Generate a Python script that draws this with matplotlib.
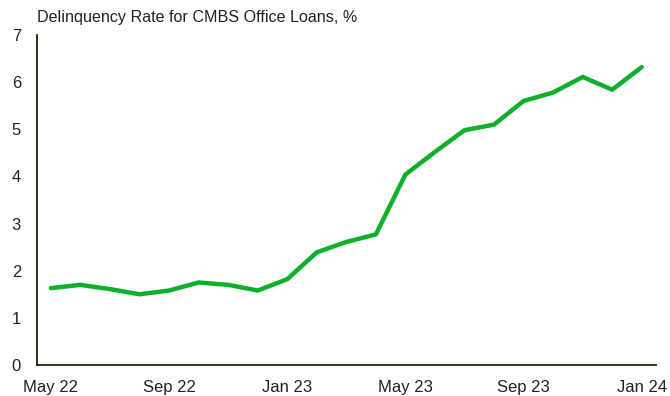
import matplotlib
matplotlib.use("Agg")
import matplotlib.pyplot as plt
import numpy as np

# monthly delinquency rate, May 22 .. Jan 24
months = ["May 22", "Jun 22", "Jul 22", "Aug 22", "Sep 22", "Oct 22", "Nov 22",
          "Dec 22", "Jan 23", "Feb 23", "Mar 23", "Apr 23", "May 23", "Jun 23",
          "Jul 23", "Aug 23", "Sep 23", "Oct 23", "Nov 23", "Dec 23", "Jan 24"]
rate = [1.63, 1.70, 1.61, 1.50, 1.58, 1.75, 1.70, 1.58, 1.82, 2.39, 2.61,
        2.77, 4.04, 4.52, 4.98, 5.10, 5.60, 5.78, 6.11, 5.84, 6.32]

plt.rcParams['font.family'] = ['Liberation Sans', 'DejaVu Sans']

fig = plt.figure(figsize=(6.7, 3.96), dpi=100)
ax = fig.add_axes([0.0552, 0.0783, 0.9238, 0.8333])

x = np.arange(len(months))
ax.plot(x, rate, color='#0DB02B', linewidth=3.2, solid_capstyle='round',
        solid_joinstyle='round')

ax.set_xlim(-0.47, len(months) - 1 + 0.48)
ax.set_ylim(0, 7)
ax.set_yticks(range(0, 8))
ax.set_xticks(x[::4])
ax.set_xticklabels(months[::4])
ax.tick_params(axis='both', length=0, labelsize=12, colors='#222222')
ax.tick_params(axis='x', pad=11)
ax.tick_params(axis='y', pad=11.5)

for s in ['top', 'right']:
    ax.spines[s].set_visible(False)
for s in ['left', 'bottom']:
    ax.spines[s].set_color('#1f2410')
    ax.spines[s].set_linewidth(1.3)

fig.text(0.0552, 0.955, "Delinquency Rate for CMBS Office Loans, %", fontsize=11.6,
         color='#222222', va='center', ha='left')

fig.savefig("out.png", dpi=100)
